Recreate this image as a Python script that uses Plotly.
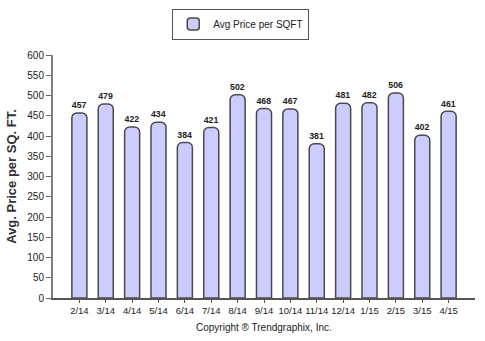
import plotly.graph_objects as go

months = ["2/14", "3/14", "4/14", "5/14", "6/14", "7/14", "8/14", "9/14",
          "10/14", "11/14", "12/14", "1/15", "2/15", "3/15", "4/15"]
avg_price = [457, 479, 422, 434, 384, 421, 502, 468, 467, 381, 481, 482, 506, 402, 461]
y_ticks = list(range(0, 601, 50))

fig = go.Figure()
fig.add_trace(go.Bar(
    x=list(range(len(months))),
    y=avg_price,
    name="Avg Price per SQFT",
    width=0.57,
    marker=dict(color="#ccccff", line=dict(color="#4a4a4a", width=1.5), cornerradius=5),
    text=avg_price,
    texttemplate="<b>%{text}</b>",
    textposition="outside",
    textfont=dict(family="Liberation Sans, Arial", size=10, color="#222"),
    cliponaxis=False,
))

fig.update_layout(
    width=485, height=341,
    margin=dict(l=47, r=10, t=49, b=43),
    paper_bgcolor="white", plot_bgcolor="white",
    font=dict(family="Liberation Sans, Arial", size=10, color="#222"),
    showlegend=True,
    legend=dict(
        orientation="h", x=0.445, xanchor="center", y=0.975, yanchor="top",
        yref="container",
        bordercolor="#555", borderwidth=1, bgcolor="white",
        font=dict(size=10, color="#222"),
        itemwidth=30,
    ),
)

fig.update_xaxes(
    range=[-1, 15],
    tickmode="array", tickvals=list(range(len(months))), ticktext=months,
    tickangle=0,
    showline=True, linecolor="#555", linewidth=1.5,
    ticks="outside", ticklen=3, tickcolor="#555",
    showgrid=False, zeroline=False,
    tickfont=dict(size=9.5, color="#222"),
)
fig.update_yaxes(
    range=[0, 600],
    tickmode="array", tickvals=y_ticks,
    showline=True, linecolor="#808080", linewidth=2,
    ticks="outside", ticklen=5, tickcolor="#666",
    showgrid=False, zeroline=False,
    tickfont=dict(size=10, color="#222"),
    title=dict(text="<b>Avg. Price per SQ. FT.</b>", font=dict(size=13, color="#333"), standoff=8),
)

fig.add_annotation(
    text="Copyright \u00ae Trendgraphix, Inc.",
    xref="paper", yref="paper", x=0.5, y=-0.09, yanchor="top",
    showarrow=False, font=dict(size=10, color="#222"),
)

fig.write_html("out.html")
